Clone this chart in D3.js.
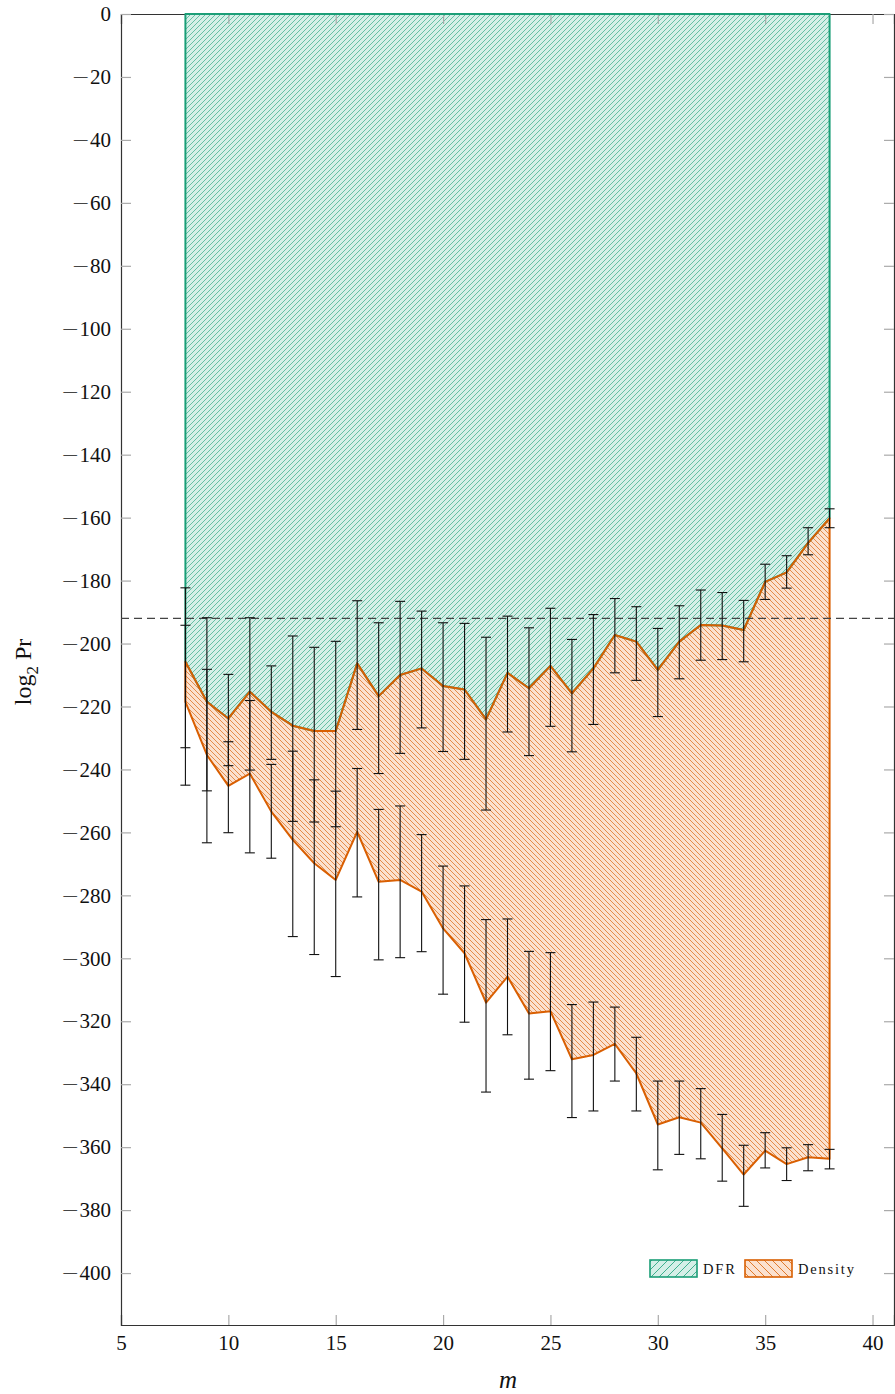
<!DOCTYPE html>
<html>
<head>
<meta charset="utf-8">
<script src="https://d3js.org/d3.v7.min.js"></script>
<style>
  body { margin: 0; background: #fff; }
  svg text { font-family: "Liberation Serif", "DejaVu Serif", serif; fill: #111; }
</style>
</head>
<body>
<svg id="chart" width="895" height="1394"></svg>
<script>
// values
const mValues = [8, 9, 10, 11, 12, 13, 14, 15, 16, 17, 18, 19, 20, 21, 22, 23,
                 24, 25, 26, 27, 28, 29, 30, 31, 32, 33, 34, 35, 36, 37, 38];

const dfrMid = [-205.8, -218.5, -223.8, -215.3, -221.7, -226.1, -227.8, -227.8, -206.3, -216.7, -210.0,
                -207.9, -213.5, -214.6, -224.1, -209.3, -214.2, -207.1, -215.8, -207.9, -197.3, -199.4,
                -208.4, -199.4, -194.1, -194.3, -195.7, -180.4, -177.4, -168.0, -160.2];
const dfrHigh = [-182.3, -191.8, -209.8, -191.8, -207.1, -197.6, -201.2, -199.3, -186.4, -193.4, -186.6,
                 -189.7, -193.4, -193.6, -198.0, -191.3, -195.0, -188.8, -198.7, -190.8, -185.7, -188.3,
                 -195.2, -188.0, -183.0, -183.8, -186.3, -174.8, -172.1, -163.2, -157.2];
const dfrLow = [-233.1, -246.8, -238.8, -240.2, -236.8, -256.5, -256.7, -258.2, -227.3, -241.3, -234.9,
                -226.8, -234.3, -236.8, -252.9, -228.1, -235.6, -226.3, -234.4, -225.7, -209.3, -211.7,
                -223.2, -211.2, -205.3, -205.1, -205.8, -186.0, -182.4, -171.8, -163.2];

const densMid = [-218.5, -235.4, -245.2, -241.3, -253.4, -262.4, -269.8, -275.1, -259.8, -275.7, -275.1,
                 -278.8, -290.5, -298.4, -314.1, -305.8, -317.5, -316.8, -332.1, -330.7, -327.2, -336.6,
                 -352.8, -350.5, -352.2, -360.4, -368.7, -361.1, -365.4, -363.2, -363.7];
const densHigh = [-194.2, -208.2, -231.2, -218.1, -238.4, -234.2, -243.3, -246.9, -239.7, -252.7, -251.6,
                  -260.7, -270.7, -277.0, -287.7, -287.5, -297.8, -298.2, -314.7, -313.9, -315.5, -325.1,
                  -339.0, -339.0, -341.4, -349.6, -359.4, -355.4, -360.2, -359.2, -360.7];
const densLow = [-245.0, -263.3, -260.1, -266.5, -268.2, -293.1, -298.8, -305.8, -280.5, -300.5, -299.8,
                 -297.9, -311.4, -320.3, -342.5, -324.3, -338.4, -335.7, -350.6, -348.5, -339.0, -348.5,
                 -367.2, -362.3, -363.7, -370.8, -378.8, -366.6, -370.6, -367.5, -366.9];

const xTicks = [5, 10, 15, 20, 25, 30, 35, 40];
const yTicks = [0, -20, -40, -60, -80, -100, -120, -140, -160, -180, -200,
                -220, -240, -260, -280, -300, -320, -340, -360, -380, -400];
const threshold = -192;
const legendLabels = ["DFR", "Density"];

const green = "#1b9e77", orange = "#d95f02";

const svg = d3.select("#chart");

let xScale = d3.scaleLinear().domain([5, 41]).range([121, 894]);
let yScale = d3.scaleLinear().domain([0, -416.5]).range([14, 1325]);

const rows = mValues.map((m, i) => ({
    m: m,
    dfr: dfrMid[i], dfrHi: dfrHigh[i], dfrLo: dfrLow[i],
    dens: densMid[i], densHi: densHigh[i], densLo: densLow[i]
}));

// hatch patterns: square tile with a diagonal line ("/" or "\")
const defs = svg.append("defs");
function hatch(id, color, light, s, rising, width) {
    let p = defs.append("pattern")
        .attr("id", id)
        .attr("patternUnits", "userSpaceOnUse")
        .attr("width", s)
        .attr("height", s);
    p.append("rect").attr("width", s).attr("height", s).attr("fill", light);
    let d = rising
        ? `M-1,1 L1,-1 M0,${s} L${s},0 M${s - 1},${s + 1} L${s + 1},${s - 1}`
        : `M-1,${s - 1} L1,${s + 1} M0,0 L${s},${s} M${s - 1},-1 L${s + 1},1`;
    p.append("path").attr("d", d)
        .attr("stroke", color)
        .attr("stroke-width", width)
        .attr("fill", "none");
}
hatch("hatchGreen", green, "#d5efe7", 5, true, 0.6);
hatch("hatchOrange", orange, "#fbe1cf", 5, false, 0.65);
hatch("legGreen", green, "#d5efe7", 8, true, 0.8);
hatch("legOrange", orange, "#fbe1cf", 8, false, 0.8);

// areas
const dfrArea = d3.area()
    .x(d => xScale(d.m))
    .y0(d => yScale(0))
    .y1(d => yScale(d.dfr));
const densArea = d3.area()
    .x(d => xScale(d.m))
    .y0(d => yScale(d.dfr))
    .y1(d => yScale(d.dens));

svg.append("path").datum(rows).attr("d", dfrArea).attr("fill", "url(#hatchGreen)");
svg.append("path").datum(rows).attr("d", densArea).attr("fill", "url(#hatchOrange)");

// axes (ticks point inward, on all four sides)
function styleAxis(g) {
    g.select(".domain").attr("stroke", "#333").attr("stroke-width", 1.2);
    g.selectAll(".tick line").attr("stroke", "#aaa").attr("stroke-width", 1.2);
    g.selectAll(".tick text").attr("font-size", "21px").attr("fill", "#111")
        .attr("font-family", "Liberation Serif, DejaVu Serif, serif");
}
svg.append("g").attr("transform", "translate(0,1325)")
    .call(d3.axisBottom(xScale).tickValues(xTicks).tickSize(-10).tickPadding(10).tickFormat(d3.format("d")))
    .call(styleAxis);
svg.append("g").attr("transform", "translate(0,14)")
    .call(d3.axisTop(xScale).tickValues(xTicks).tickSize(-10).tickFormat(""))
    .call(styleAxis);
let yAxisG = svg.append("g").attr("transform", "translate(121,0)")
    .call(d3.axisLeft(yScale).tickValues(yTicks).tickSize(-10).tickPadding(10).tickFormat(""))
    .call(styleAxis);
// y labels with a wide minus sign like the TeX original
yAxisG.selectAll(".tick text").each(function (d) {
    let t = d3.select(this);
    if (d < 0) {
        t.append("tspan")
            .style("font-family", "'DejaVu Sans'")
            .style("font-size", "22px")
            .style("font-weight", "300")
            .text("\u2212");
    }
    t.append("tspan").text(Math.abs(d));
});
svg.append("g").attr("transform", "translate(894,0)")
    .call(d3.axisRight(yScale).tickValues(yTicks).tickSize(-10).tickFormat(""))
    .call(styleAxis);

// area outlines on top of the frame
svg.append("path").datum(rows).attr("d", dfrArea)
    .attr("fill", "none").attr("stroke", green).attr("stroke-width", 2).attr("stroke-linejoin", "round");
svg.append("path").datum(rows).attr("d", densArea)
    .attr("fill", "none").attr("stroke", orange).attr("stroke-width", 2).attr("stroke-linejoin", "round");

// threshold line
svg.append("line")
    .attr("x1", 121).attr("x2", 894)
    .attr("y1", yScale(threshold)).attr("y2", yScale(threshold))
    .attr("stroke", "#444").attr("stroke-width", 1.3)
    .attr("stroke-dasharray", "8,5");

// error bars
function errorBars(hiKey, loKey) {
    let g = svg.append("g").attr("stroke", "#111").attr("stroke-width", 1.1);
    rows.forEach(d => {
        let cx = xScale(d.m);
        g.append("line").attr("x1", cx).attr("x2", cx)
            .attr("y1", yScale(d[hiKey])).attr("y2", yScale(d[loKey]));
        g.append("line").attr("x1", cx - 5).attr("x2", cx + 5)
            .attr("y1", yScale(d[hiKey])).attr("y2", yScale(d[hiKey]));
        g.append("line").attr("x1", cx - 5).attr("x2", cx + 5)
            .attr("y1", yScale(d[loKey])).attr("y2", yScale(d[loKey]));
    });
}
errorBars("dfrHi", "dfrLo");
errorBars("densHi", "densLo");

// axis labels
svg.append("text")
    .attr("x", 508).attr("y", 1388)
    .attr("text-anchor", "middle")
    .attr("font-size", "25px")
    .attr("font-style", "italic")
    .text("m");

let ylab = svg.append("text")
    .attr("transform", "translate(31,672) rotate(-90)")
    .attr("text-anchor", "middle")
    .attr("font-size", "24px");
ylab.append("tspan").text("log");
ylab.append("tspan").attr("dy", 7).attr("font-size", "17px").text("2");
ylab.append("tspan").attr("dy", -7).text(" Pr");

// legend
const legColors = [green, orange];
const legFills = ["url(#legGreen)", "url(#legOrange)"];
const legX = [650, 745];
legendLabels.forEach((lab, i) => {
    svg.append("rect")
        .attr("x", legX[i]).attr("y", 1260)
        .attr("width", 47).attr("height", 17)
        .attr("fill", legFills[i])
        .attr("stroke", legColors[i])
        .attr("stroke-width", 1.6);
    svg.append("text")
        .attr("x", legX[i] + 53).attr("y", 1274)
        .attr("font-size", "14.5px")
        .attr("letter-spacing", "1.8px")
        .text(lab);
});
</script>
</body>
</html>
